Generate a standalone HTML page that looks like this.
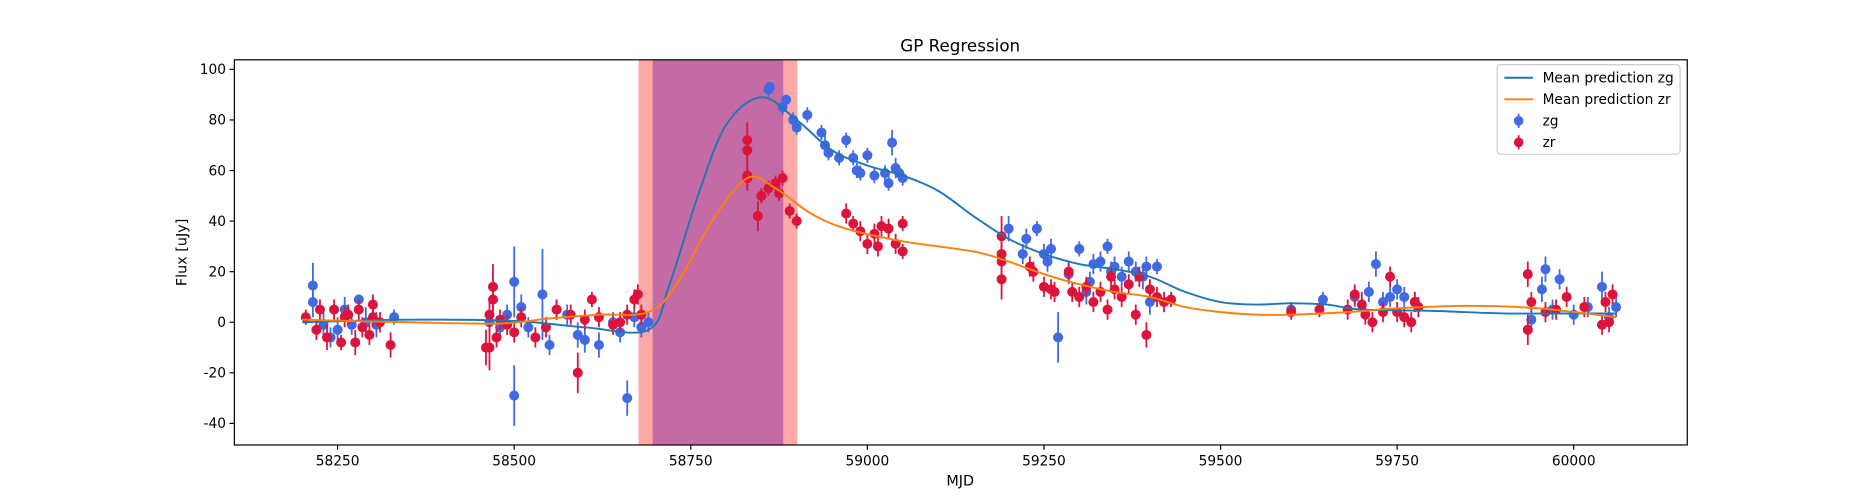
<!DOCTYPE html>
<html><head><meta charset="utf-8"><style>
body{margin:0;background:#fff;font-family:"Liberation Sans","DejaVu Sans",sans-serif}
svg{display:block}
svg text{font-family:"DejaVu Sans","Liberation Sans",sans-serif;fill:#000}
</style></head><body>
<svg id="c" width="1875" height="500" viewBox="0 0 1568 418" preserveAspectRatio="none"></svg>
<script>
const xTicks=[58250,58500,58750,59000,59250,59500,59750,60000];
const yTicks=[-40,-20,0,20,40,60,80,100];
const zgData=[[58215,14.5,9],[58215,8,6],[58230,-1,5],[58240,-6,4],[58250,-3,5],[58260,5,5],[58270,-1,4],[58280,9,2],[58290,0,6],[58305,-1,5],[58330,2,3],[58465,0,4],[58480,-2,4],[58490,3,4],[58500,16,14],[58500,-29,12],[58510,6,5],[58520,-2,4],[58540,11,18],[58550,-9,4],[58560,5,4],[58575,3,4],[58590,-5,5],[58600,-7,5],[58620,-9,5],[58640,0,4],[58650,-4,4],[58660,-30,7],[58670,2,4],[58680,-2,4],[58690,0,4],
[58860,92,3],[58862,93,2],[58880,85,3],[58885,88,2],[58895,80,3],[58900,77,3],[58915,82,3],[58935,75,3],[58940,70,4],[58945,67,3],[58960,65,3],[58970,72,3],[58980,65,3],[58985,60,3],[58990,59,3],[59000,66,3],[59010,58,3],[59025,59,3],[59030,55,3],[59035,71,5],[59040,61,4],[59045,59,3],[59050,57,3],
[59200,37,5],[59220,27,4],[59225,33,4],[59240,37,3],[59250,27,4],[59255,24,4],[59260,29,4],[59270,-6,10],[59285,19,4],[59300,29,3],[59310,12,5],[59315,16,4],[59320,23,4],[59330,24,4],[59340,30,3],[59345,20,4],[59350,22,4],[59360,18,4],[59370,24,4],[59380,20,4],[59390,18,5],[59395,22,4],[59400,8,5],[59410,22,3],
[59600,5,3],[59645,9,3],[59690,10,4],[59710,12,4],[59720,23,5],[59730,8,4],[59740,10,4],[59750,13,4],[59760,10,4],[59775,8,4],[59940,1,4],[59955,13,5],[59960,21,5],[59970,5,4],[59980,17,4],[60000,3,4],[60020,6,4],[60040,14,6],[60060,6,4],[60050,2,4]];
const zrData=[[58205,2,3],[58220,-3,4],[58225,5,4],[58235,-6,5],[58245,5,4],[58255,-8,3],[58260,2,4],[58265,3,4],[58275,-8,5],[58280,5,4],[58285,-2,4],[58295,-5,4],[58300,7,4],[58300,2,4],[58310,0,4],[58325,-9,5],[58460,-10,7],[58465,-10,9],[58465,3,5],[58470,14,9],[58470,9,5],[58475,-6,4],[58480,1,4],[58490,-1,4],[58500,-4,4],[58510,2,4],[58530,-6,4],[58545,-2,4],[58560,5,4],[58580,3,4],[58590,-20,8],[58600,1,4],[58610,9,3],[58620,2,4],[58640,-1,4],[58650,0,4],[58660,3,4],[58670,9,4],[58675,11,4],[58680,3,4],
[58830,72,7],[58830,68,5],[58830,58,5],[58830,57,5],[58845,42,6],[58850,50,3],[58860,53,3],[58870,55,3],[58875,51,3],[58880,57,3],[58890,44,3],[58900,40,3],
[58970,43,4],[58980,39,3],[58990,36,4],[59000,31,4],[59010,35,4],[59015,30,4],[59020,38,4],[59030,37,4],[59040,31,4],[59050,39,3],[59050,28,3],
[59190,34,8],[59190,27,5],[59190,24,5],[59190,17,8],[59230,22,4],[59235,20,4],[59250,14,4],[59260,13,4],[59265,12,4],[59285,20,4],[59290,12,4],[59300,10,4],[59310,14,4],[59320,8,4],[59330,12,4],[59340,5,4],[59345,18,4],[59350,13,4],[59360,10,4],[59370,15,4],[59380,3,4],[59385,18,4],[59395,-5,5],[59400,13,4],[59410,10,4],[59420,8,4],[59430,9,3],
[59600,4,3],[59640,5,3],[59680,5,4],[59690,11,4],[59700,7,5],[59705,3,4],[59715,0,4],[59730,4,4],[59740,18,4],[59750,4,4],[59760,2,4],[59770,0,4],[59780,6,4],[59775,8,4],
[59935,19,5],[59935,-3,6],[59940,8,4],[59960,4,4],[59975,5,4],[59990,10,4],[60015,6,4],[60040,-1,4],[60050,0,4],[60055,11,4],[60045,8,4]];
const zgMean=[[58200,0],[58350,1],[58500,0.5],[58600,-2],[58690,-3],[58720,15],[58760,50],[58800,78],[58850,89],[58900,80],[58950,68],[59000,62],[59050,58],[59100,52],[59150,42],[59200,33],[59250,27],[59300,23],[59350,21],[59400,18],[59450,12],[59500,8],[59550,7],[59600,7.5],[59650,7],[59700,5],[59800,4.5],[59900,3.5],[60000,3.5],[60060,3.5]];
const zrMean=[[58200,1],[58350,0],[58480,-0.5],[58550,1.5],[58620,3],[58690,4],[58730,15],[58780,40],[58830,57],[58870,53],[58920,43],[58970,37],[59050,32],[59150,28],[59200,24],[59250,19],[59300,15],[59350,12],[59400,10],[59450,6],[59500,4],[59550,3],[59600,3],[59680,4],[59750,5.5],[59850,6.5],[59950,5.5],[60060,2]];
const spanOuter=[58676,58901];
const spanInner=[58696,58881];

const NS='http://www.w3.org/2000/svg';
const svg=document.getElementById('c');
const L=196,R=1411,T=50,B=372;
const X=v=>430+(v-58500)*0.5907;
const Y=v=>269.4-v*2.114;
function mk(tag,attrs,parent){const e=document.createElementNS(NS,tag);for(const k in attrs)e.setAttribute(k,attrs[k]);(parent||svg).appendChild(e);return e;}

let r1=mk('rect',{x:X(spanOuter[0]),y:T,width:X(spanOuter[1])-X(spanOuter[0]),height:B-T,fill:'#ffa8a8'});


let r2=mk('rect',{x:X(spanInner[0]),y:T,width:X(spanInner[1])-X(spanInner[0]),height:B-T,fill:'#c46aa4'});



function smooth(pts){let d='M'+X(pts[0][0])+','+Y(pts[0][1]);for(let i=0;i<pts.length-1;i++){const p0=pts[Math.max(0,i-1)],p1=pts[i],p2=pts[i+1],p3=pts[Math.min(pts.length-1,i+2)];const c1x=X(p1[0])+(X(p2[0])-X(p0[0]))/6,c1y=Y(p1[1])+(Y(p2[1])-Y(p0[1]))/6,c2x=X(p2[0])-(X(p3[0])-X(p1[0]))/6,c2y=Y(p2[1])-(Y(p3[1])-Y(p1[1]))/6;d+=` C${c1x},${c1y} ${c2x},${c2y} ${X(p2[0])},${Y(p2[1])}`;}return d;}

function pts(data,color,name){const g=mk('g',{});
for(const [m,f,e] of data){const l=mk('line',{x1:X(m),x2:X(m),y1:Y(f-e),y2:Y(f+e),stroke:color,'stroke-width':1.5},g);
const c=mk('circle',{cx:X(m),cy:Y(f),r:4.2,fill:color},g);}}
pts(zgData,'#4169e1','zg-points');
pts(zrData,'#dc143c','zr-points');
let p1=mk('path',{d:smooth(zgMean),fill:'none',stroke:'#1f77b4','stroke-width':1.6});

let p2=mk('path',{d:smooth(zrMean),fill:'none',stroke:'#ff7f0e','stroke-width':1.6});


let fr=mk('rect',{x:L,y:T,width:R-L,height:B-T,fill:'none',stroke:'#000','stroke-width':1});

for(const t of xTicks){mk('line',{x1:X(t),x2:X(t),y1:B,y2:B+4,stroke:'#000'});const tx=mk('text',{x:X(t),y:B+17,'text-anchor':'middle','font-size':11.5});tx.textContent=t;}
for(const t of yTicks){mk('line',{x1:L-4,x2:L,y1:Y(t),y2:Y(t),stroke:'#000'});const tx=mk('text',{x:L-7,y:Y(t)+4,'text-anchor':'end','font-size':11.5});tx.textContent=t;}
let t1=mk('text',{x:803,y:43,'text-anchor':'middle','font-size':14});t1.textContent='GP Regression';
let t2=mk('text',{x:803,y:406,'text-anchor':'middle','font-size':12});t2.textContent='MJD';
let t3=mk('text',{x:156,y:211,'text-anchor':'middle','font-size':12,transform:'rotate(-90 156 211)'});t3.textContent='Flux [uJy]';

const lg=mk('g',{});
mk('rect',{x:1252,y:54,width:153,height:75,rx:3,fill:'#fff','fill-opacity':0.8,stroke:'#ccc'},lg);
const ents=[['line','#1f77b4','Mean prediction zg'],['line','#ff7f0e','Mean prediction zr'],['pt','#4169e1','zg'],['pt','#dc143c','zr']];
ents.forEach((e,i)=>{const y=65+i*18;const g=mk('g',{},lg);
if(e[0]=='line')mk('line',{x1:1258,x2:1282,y1:y,y2:y,stroke:e[1],'stroke-width':1.6},g);
else{mk('line',{x1:1270,x2:1270,y1:y-6,y2:y+6,stroke:e[1],'stroke-width':1.5},g);mk('circle',{cx:1270,cy:y,r:4,fill:e[1]},g);}
const t=mk('text',{x:1290,y:y+4,'font-size':11.5},g);t.textContent=e[2];});
</script>
</body></html>
